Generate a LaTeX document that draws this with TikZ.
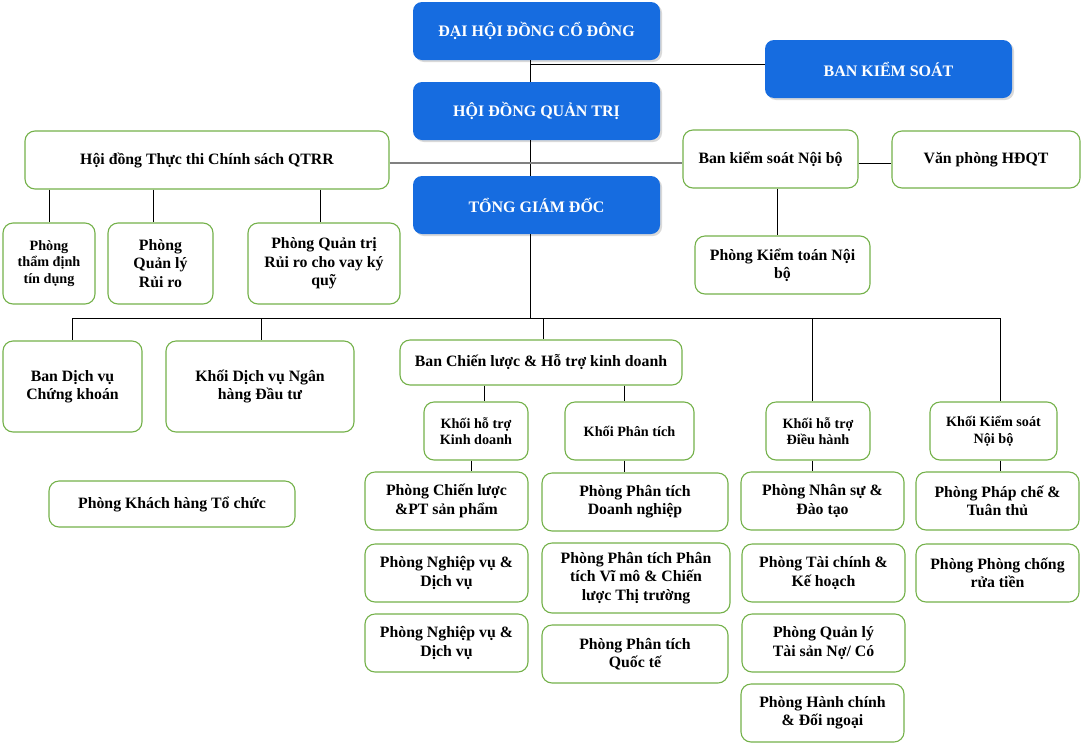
\documentclass[tikz,border=0pt]{standalone}
\usepackage{fontspec}
\setmainfont{Liberation Serif}
\usepackage{xcolor}
\usepackage{tikz}
\usetikzlibrary{shapes}
\usetikzlibrary{positioning}
\usetikzlibrary{shadows}
\definecolor{bossblue}{HTML}{166CE0}
\definecolor{leafgreen}{HTML}{74B14A}
\tikzset{
    bossnode/.style = {rectangle, rounded corners=9pt, fill=bossblue, text=white, align=center, font=\bfseries\fontsize{16}{18}\selectfont, drop shadow={shadow xshift=2pt, shadow yshift=-2pt, opacity=0.3}, minimum width=247pt, minimum height=58pt},
    unitnode/.style = {rectangle, rounded corners=10pt, draw=leafgreen, line width=1.1pt, fill=white, align=center, inner sep=2pt, font=\bfseries\fontsize{15.8}{18.3}\selectfont},
    smallnode/.style = {unitnode, font=\bfseries\fontsize{14.2}{16.6}\selectfont},
}

\begin{document}
\begin{tikzpicture}[x=1pt, y=-1pt]
\tikzset{
    edgen/.style = {-, black, line width=1pt},
    edgeg/.style = {-, black!50, line width=2pt}
}
\useasboundingbox (0,0) rectangle (1081,753);
%
\coordinate (t) at (530,318);
\coordinate (j) at (530,64);
\coordinate (b1) at (72,318);
\coordinate (b2) at (261,318);
\coordinate (b3) at (543,318);
\coordinate (b4) at (812,318);
\coordinate (b5) at (1000,318);
%
\node[bossnode] at (536.5,31) (dhdcd) {ĐẠI HỘI ĐỒNG CỔ ĐÔNG};
\node[bossnode] at (888.5,69) (bks) {BAN KIỂM SOÁT};
\node[bossnode] at (536.5,111) (hdqt) {HỘI ĐỒNG QUẢN TRỊ};
\node[bossnode] at (536.5,205) (tgd) {TỔNG GIÁM ĐỐC};
%
\node[unitnode, minimum width=364pt, minimum height=58pt] at (207,160) (hdtt) {Hội đồng Thực thi Chính sách QTRR};
\node[unitnode, minimum width=175pt, minimum height=58pt] at (770.5,159) (bksnb) {Ban kiểm soát Nội bộ};
\node[unitnode, minimum width=188pt, minimum height=57pt] at (986,159.5) (vphdqt) {Văn phòng HĐQT};
\node[unitnode, minimum width=175pt, minimum height=58pt] at (782.5,265) (pktnb) {Phòng Kiểm toán Nội\\bộ};
%
\node[smallnode, minimum width=92pt, minimum height=81pt] at (49,263.5) (ptd) {Phòng\\thẩm định\\tín dụng};
\node[unitnode, minimum width=105pt, minimum height=81pt] at (160.5,263.5) (pqlrr) {Phòng\\Quản lý\\Rủi ro};
\node[unitnode, minimum width=152pt, minimum height=81pt] at (324,263.5) (pqtrr) {Phòng Quản trị\\Rủi ro cho vay ký\\quỹ};
%
\node[unitnode, minimum width=139pt, minimum height=91pt] at (72.5,386.5) (bdvck) {Ban Dịch vụ\\Chứng khoán};
\node[unitnode, minimum width=188pt, minimum height=91pt] at (260,386.5) (kdvnh) {Khối Dịch vụ Ngân\\hàng Đầu tư};
\node[unitnode, minimum width=282pt, minimum height=45pt] at (541,362.5) (bcl) {Ban Chiến lược \& Hỗ trợ kinh doanh};
\node[unitnode, minimum width=246pt, minimum height=46pt] at (172,504) (pkhtc) {Phòng Khách hàng Tổ chức};
%
\node[smallnode, minimum width=104pt, minimum height=58pt] at (476,431) (khtkd) {Khối hỗ trợ\\Kinh doanh};
\node[smallnode, minimum width=129pt, minimum height=58pt] at (629.5,431) (kpt) {Khối Phân tích};
\node[smallnode, minimum width=104pt, minimum height=58pt] at (818,431) (khtdh) {Khối hỗ trợ\\Điều hành};
\node[smallnode, minimum width=127pt, minimum height=58pt] at (993.5,431) (kksnb) {Khối Kiểm soát\\Nội bộ};
%
\node[unitnode, minimum width=163pt, minimum height=58pt] at (446.5,501) (pclpt) {Phòng Chiến lược\\\&PT sản phẩm};
\node[unitnode, minimum width=163pt, minimum height=58pt] at (446.5,573) (pnvdv) {Phòng Nghiệp vụ \&\\Dịch vụ};
\node[unitnode, minimum width=163pt, minimum height=58pt] at (446.5,643) (pnvdvb) {Phòng Nghiệp vụ \&\\Dịch vụ};
%
\node[unitnode, minimum width=186pt, minimum height=58pt] at (635,502) (pptdn) {Phòng Phân tích\\Doanh nghiệp};
\node[unitnode, minimum width=188pt, minimum height=70pt] at (636,578) (pptvm) {Phòng Phân tích Phân\\tích Vĩ mô \& Chiến\\lược Thị trường};
\node[unitnode, minimum width=186pt, minimum height=58pt] at (635,654) (pptqt) {Phòng Phân tích\\Quốc tế};
%
\node[unitnode, minimum width=163pt, minimum height=58pt] at (822.5,501) (pnsdt) {Phòng Nhân sự \&\\Đào tạo};
\node[unitnode, minimum width=163pt, minimum height=58pt] at (823.5,573) (ptckh) {Phòng Tài chính \&\\Kế hoạch};
\node[unitnode, minimum width=163pt, minimum height=58pt] at (823.5,643) (pqlts) {Phòng Quản lý\\Tài sản Nợ/ Có};
\node[unitnode, minimum width=163pt, minimum height=58pt] at (822.5,713) (phcdn) {Phòng Hành chính\\\& Đối ngoại};
%
\node[unitnode, minimum width=163pt, minimum height=58pt] at (997.5,501) (ppctt) {Phòng Pháp chế \&\\Tuân thủ};
\node[unitnode, minimum width=163pt, minimum height=58pt] at (997.5,573) (ppcrt) {Phòng Phòng chống\\rửa tiền};
%
\draw[edgen] (dhdcd.south -| t) -- (hdqt.north -| t);
\draw[edgen] (hdqt.south -| t) -- (tgd.north -| t);
\draw[edgen] (tgd.south -| t) -- (t);
\draw[edgen] (j) -- (j -| bks.west);
%
\draw[edgeg] (hdtt.east |- 0,163) -- (bksnb.west |- 0,163);
\draw[edgen] (bksnb.east |- 0,163) -- (vphdqt.west |- 0,163);
\draw[edgen] (bksnb.south -| 777,0) -- (pktnb.north -| 777,0);
%
\draw[edgen] (hdtt.south -| 49,0) -- (ptd.north -| 49,0);
\draw[edgen] (hdtt.south -| 153,0) -- (pqlrr.north -| 153,0);
\draw[edgen] (hdtt.south -| 320,0) -- (pqtrr.north -| 320,0);
%
\draw[edgen] (b1) -- (b5);
\draw[edgen] (b1) -- (b1 |- bdvck.north);
\draw[edgen] (b2) -- (b2 |- kdvnh.north);
\draw[edgen] (b3) -- (b3 |- bcl.north);
\draw[edgen] (b4) -- (b4 |- khtdh.north);
\draw[edgen] (b5) -- (b5 |- kksnb.north);
%
\draw[edgen] (bcl.south -| 484,0) -- (khtkd.north -| 484,0);
\draw[edgen] (bcl.south -| 624,0) -- (kpt.north -| 624,0);
\draw[edgen] (khtkd.south -| 471,0) -- (pclpt.north -| 471,0);
\draw[edgen] (kpt.south -| 624,0) -- (pptdn.north -| 624,0);
\draw[edgen] (khtdh.south -| b4) -- (pnsdt.north -| b4);
\draw[edgen] (kksnb.south -| b5) -- (ppctt.north -| b5);
\end{tikzpicture}
\end{document}
